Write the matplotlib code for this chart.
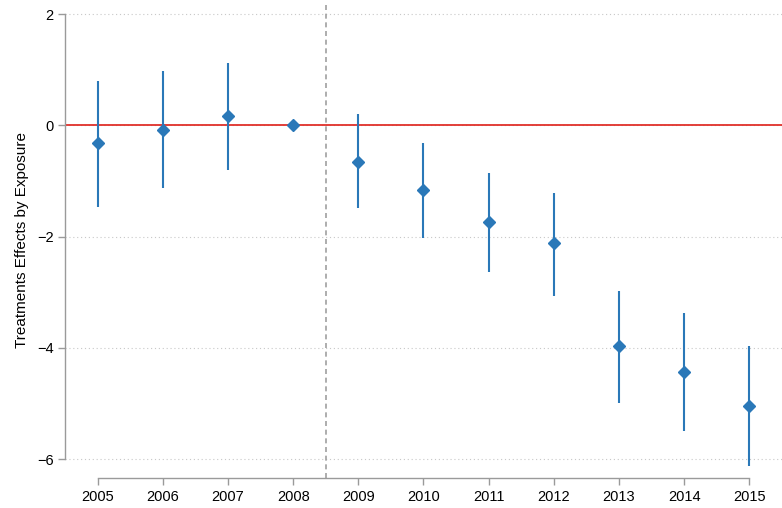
import matplotlib
matplotlib.use("Agg")
import matplotlib.pyplot as plt
import numpy as np

# === Data ===
years = [2005, 2006, 2007, 2008, 2009, 2010, 2011, 2012, 2013, 2014, 2015]
coef = [-0.32, -0.09, 0.16, 0.0, -0.65, -1.17, -1.73, -2.12, -3.97, -4.44, -5.04]
ci_low = [-1.46, -1.13, -0.81, 0.0, -1.49, -2.03, -2.63, -3.06, -5.00, -5.49, -6.12]
ci_high = [0.79, 0.97, 1.13, 0.0, 0.20, -0.31, -0.85, -1.21, -2.97, -3.38, -3.96]
y_ticks = [-6, -4, -2, 0, 2]
treat_line = 2008.5

blue = "#2a78b8"
red = "#e0302a"
axis_gray = "#9a9a9a"

plt.rcParams["font.family"] = ["Liberation Sans", "DejaVu Sans"]

fig = plt.figure(figsize=(7.82, 5.08), dpi=100)
ax = fig.add_axes([0.0831, 0.0591, 0.9169, 0.935])

# grid
for t in y_ticks:
    ax.axhline(t, color="#c8c8c8", lw=0.8, ls=(0, (1, 2.5)), zorder=0)

ax.axhline(0, color=red, lw=1.3, zorder=1)
ax.axvline(treat_line, color="#a0a0a0", lw=1.2, ls=(0, (3, 2.2)), zorder=1)

# confidence intervals
for x, lo, hi in zip(years, ci_low, ci_high):
    if hi > lo:
        ax.vlines(x, lo, hi, color=blue, lw=1.5, zorder=2)
ax.plot(years, coef, ls="none", marker="D", ms=6, color=blue, zorder=3)

ax.set_xlim(2004.5, 2015.5)
ax.set_ylim(-6.34, 2.2)
ax.set_xticks(years)
ax.set_yticks(y_ticks)

for side in ["top", "right"]:
    ax.spines[side].set_visible(False)
ax.spines["left"].set_bounds(-6, 2)
ax.spines["bottom"].set_bounds(2005, 2015)
for side in ["left", "bottom"]:
    ax.spines[side].set_color(axis_gray)
    ax.spines[side].set_linewidth(1.0)

ax.tick_params(axis="both", colors=axis_gray, length=5, width=1.0,
               labelcolor="black", labelsize=10.5)
ax.tick_params(axis="y", pad=3)
ax.set_ylabel("Treatments Effects by Exposure", fontsize=11, labelpad=6)

fig.savefig("out.png", dpi=100)
